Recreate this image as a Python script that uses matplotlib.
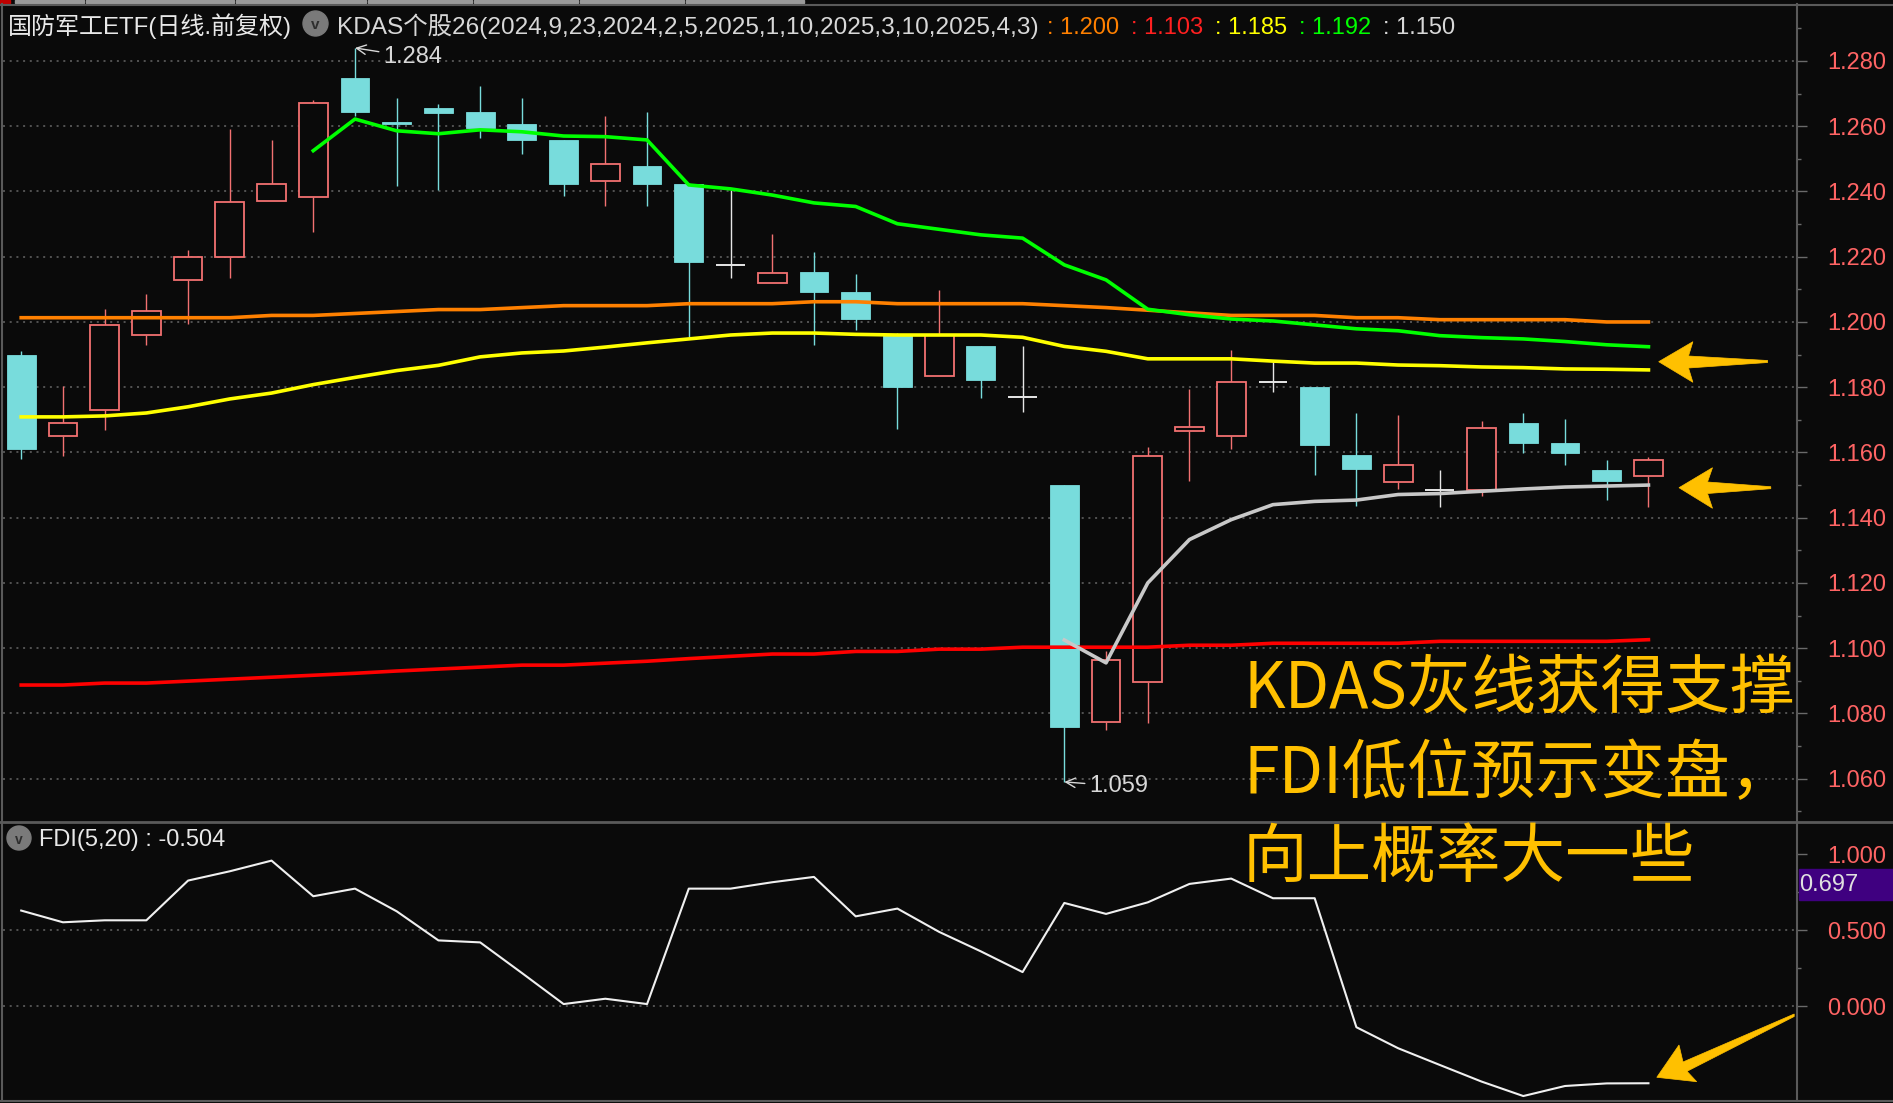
import numpy as np
import matplotlib
matplotlib.use("Agg")
import matplotlib.pyplot as plt
from matplotlib.patches import Polygon, Ellipse, Rectangle
from matplotlib.lines import Line2D

# ---------------- data ----------------
opens = [1.1900, 1.1650, 1.1730, 1.1960, 1.2130, 1.2200, 1.2370, 1.2382, 1.2748, 1.2612,
         1.2655, 1.2643, 1.2607, 1.2558, 1.2431, 1.2478, 1.2422, 1.2176, 1.2119, 1.2153,
         1.2092, 1.1960, 1.1833, 1.1927, 1.1771, 1.1500, 1.0773, 1.0897, 1.1666, 1.1650,
         1.1816, 1.1800, 1.1591, 1.1509, 1.1484, 1.1484, 1.1689, 1.1628, 1.1547, 1.1527]
highs = [1.1910, 1.1805, 1.2040, 1.2085, 1.2220, 1.2590, 1.2558, 1.2680, 1.2840, 1.2686,
         1.2667, 1.2723, 1.2687, 1.2558, 1.2631, 1.2644, 1.2425, 1.2405, 1.2270, 1.2214,
         1.2146, 1.1965, 1.2098, 1.1927, 1.1927, 1.1500, 1.0990, 1.1616, 1.1795, 1.1915,
         1.1879, 1.1800, 1.1720, 1.1714, 1.1547, 1.1696, 1.1720, 1.1702, 1.1578, 1.1585]
lows = [1.1580, 1.1590, 1.1670, 1.1930, 1.1995, 1.2135, 1.2370, 1.2277, 1.2630, 1.2418,
        1.2405, 1.2565, 1.2516, 1.2387, 1.2357, 1.2357, 1.1955, 1.2136, 1.2119, 1.1928,
        1.1975, 1.1672, 1.1833, 1.1768, 1.1725, 1.0590, 1.0748, 1.0771, 1.1512, 1.1611,
        1.1784, 1.1532, 1.1435, 1.1488, 1.1433, 1.1466, 1.1599, 1.1563, 1.1453, 1.1433]
closes = [1.1610, 1.1690, 1.1990, 1.2035, 1.2200, 1.2367, 1.2422, 1.2672, 1.2644, 1.2607,
          1.2640, 1.2596, 1.2559, 1.2424, 1.2483, 1.2424, 1.2185, 1.2176, 1.2151, 1.2093,
          1.2008, 1.1800, 1.1960, 1.1822, 1.1771, 1.0759, 1.0965, 1.1590, 1.1678, 1.1817,
          1.1816, 1.1622, 1.1550, 1.1560, 1.1484, 1.1675, 1.1629, 1.1599, 1.1512, 1.1577]

kdas_orange = [1.2013] * 6 + [1.2020] * 2 + [1.2026, 1.2032] + [1.2038] * 2 + [1.2044] + \
              [1.2050] * 3 + [1.2056] * 3 + [1.2062] * 2 + [1.2056] * 4 + \
              [1.2050, 1.2044, 1.2036, 1.2028] + [1.2020] * 3 + [1.2013] * 2 + \
              [1.2007] * 4 + [1.2000] * 2
kdas_red = [1.0887] * 2 + [1.0893] * 2 + [1.0899, 1.0905, 1.0911, 1.0917, 1.0923, 1.0930,
            1.0936, 1.0942] + [1.0948] * 2 + [1.0954, 1.0960, 1.0968, 1.0975] + \
           [1.0982] * 2 + [1.0990] * 2 + [1.0997] * 2 + [1.1003] * 4 + [1.1009] * 2 + \
           [1.1015] * 4 + [1.1021] * 5 + [1.1026]
kdas_yellow = [1.1709, 1.1709, 1.1712, 1.1721, 1.1740, 1.1764, 1.1782, 1.1808, 1.1830, 1.1851,
               1.1867, 1.1893, 1.1905, 1.1911, 1.1923, 1.1936, 1.1948, 1.1960, 1.1966, 1.1966,
               1.1962, 1.1960, 1.1960, 1.1960, 1.1953, 1.1925, 1.1910, 1.1887, 1.1887, 1.1887,
               1.1880, 1.1874, 1.1874, 1.1868, 1.1866, 1.1862, 1.1860, 1.1856, 1.1855, 1.1853]
green_start = 7
kdas_green = [1.2525, 1.2622, 1.2586, 1.2577, 1.2589, 1.2583, 1.2570, 1.2568, 1.2558, 1.2420,
              1.2408, 1.2389, 1.2365, 1.2354, 1.2301, 1.2284, 1.2267, 1.2257, 1.2175, 1.2129,
              1.2039, 1.2022, 1.2009, 1.2003, 1.1991, 1.1979, 1.1973, 1.1958, 1.1952, 1.1948,
              1.1940, 1.1930, 1.1924]
gray_start = 25
kdas_gray = [1.1025, 1.0955, 1.1200, 1.1333, 1.1394, 1.1440, 1.1450, 1.1454, 1.1471, 1.1474,
             1.1481, 1.1488, 1.1494, 1.1497, 1.1500]

fdi = [0.630, 0.553, 0.566, 0.566, 0.827, 0.888, 0.958, 0.724, 0.774, 0.625,
       0.434, 0.421, 0.220, 0.016, 0.051, 0.016, 0.774, 0.774, 0.816, 0.851,
       0.592, 0.643, 0.490, 0.362, 0.226, 0.680, 0.608, 0.684, 0.805, 0.840,
       0.711, 0.711, -0.136, -0.274, -0.384, -0.493, -0.588, -0.522, -0.505, -0.504]

price_ticks = [1.060, 1.080, 1.100, 1.120, 1.140, 1.160, 1.180, 1.200, 1.220, 1.240, 1.260, 1.280]
fdi_ticks = [0.0, 0.5, 1.0]
fdi_grid = [0.0, 0.5]

title_main = "国防军工ETF(日线.前复权)"
title_kdas = "KDAS个股26(2024,9,23,2024,2,5,2025,1,10,2025,3,10,2025,4,3)"
fdi_name = "FDI(5,20)"
note_lines = ["KDAS灰线获得支撑", "FDI低位预示变盘，", "向上概率大一些"]
cursor_value = "0.697"

# ---------------- style ----------------
W, H = 1893, 1103
BG = "#0a0a0a"
BORDER = "#5a5a5a"
GRID = "#505050"
UPC = "#f27171"
DNC = "#78dcdc"
DOJ = "#e6e6e6"
AXLBL = "#ff6464"
NOTE = "#ffc000"

plt.rcParams['font.family'] = ['Liberation Sans', 'Noto Sans CJK SC', 'DejaVu Sans']

fig = plt.figure(figsize=(W / 100, H / 100), dpi=100, facecolor=BG)


def fx(px):
    return px / W


def fy(py):
    return 1 - py / H


ax1 = fig.add_axes([fx(3), fy(821), fx(1797) - fx(3), fy(4) - fy(821)], facecolor=BG)
ax2 = fig.add_axes([fx(3), fy(1100), fx(1797) - fx(3), fy(823) - fy(1100)], facecolor=BG)

x = np.arange(len(opens))
o = np.array(opens)
h = np.array(highs)
l = np.array(lows)
c = np.array(closes)
up = c > o
dn = c < o
fl = c == o
bw = 0.69

# grid
for v in price_ticks:
    ax1.axhline(v, color=GRID, lw=1.44, ls=(0, (1, 2.35)), zorder=1)
for v in fdi_grid:
    ax2.axhline(v, color=GRID, lw=1.44, ls=(0, (1, 2.35)), zorder=1)

# candles
ax1.vlines(x[dn], l[dn], h[dn], color=DNC, lw=1.0, zorder=2)
ax1.bar(x[dn], (o - c)[dn], bottom=c[dn], width=bw, color=DNC, edgecolor=DNC, lw=0.6, zorder=2)
ax1.vlines(x[up], c[up], h[up], color=UPC, lw=1.0, zorder=2)
ax1.vlines(x[up], l[up], o[up], color=UPC, lw=1.0, zorder=2)
ax1.bar(x[up], (c - o)[up], bottom=o[up], width=bw, facecolor=BG, edgecolor=UPC, lw=1.3, zorder=2)
ax1.vlines(x[fl], l[fl], h[fl], color=DOJ, lw=1.0, zorder=2)
ax1.hlines(c[fl], x[fl] - bw / 2, x[fl] + bw / 2, color=DOJ, lw=1.4, zorder=2)

# KDAS lines
LW = 2.6
ax1.plot(x, kdas_red, color="#ff0000", lw=LW, zorder=3)
ax1.plot(x, kdas_orange, color="#ff8000", lw=LW, zorder=3)
ax1.plot(x, kdas_yellow, color="#ffff00", lw=LW, zorder=3)
ax1.plot(x[green_start:], kdas_green, color="#00ff00", lw=LW, zorder=3)
ax1.plot(x[gray_start:], kdas_gray, color="#c8c8c8", lw=LW, zorder=3)

# FDI
ax2.plot(x, fdi, color="#f0f0f0", lw=1.5, zorder=3)

# axes formatting
for ax in (ax1, ax2):
    ax.set_xlim(-0.436, 42.56)
    for s in ax.spines.values():
        s.set_visible(False)
    ax.tick_params(axis='x', bottom=False, labelbottom=False)
    ax.yaxis.tick_right()
    ax.tick_params(axis='y', which='major', direction='out', length=7, width=1,
                   color='#6a6a6a', labelcolor=AXLBL, labelsize=17, pad=15)
    ax.tick_params(axis='y', which='minor', direction='out', length=3, width=1, color='#6a6a6a')

ax1.set_ylim(1.04702, 1.29747)
ax1.set_yticks(price_ticks)
ax1.set_yticklabels([f"{v:.3f}" for v in price_ticks])
ax1.set_yticks([v + 0.01 for v in price_ticks] + [price_ticks[0] - 0.01], minor=True)

ax2.set_ylim(-0.614, 1.205)
ax2.set_yticks(fdi_ticks)
ax2.set_yticklabels([f"{v:.3f}" for v in fdi_ticks])
ax2.set_yticks([0.25, 0.75], minor=True)

# high / low labels
ih = int(np.argmax(h))
il = int(np.argmin(l))
ax1.annotate(f"{h[ih]:.3f}", xy=(ih, h[ih]), xycoords='data',
             xytext=(383, H - 57), textcoords='figure pixels',
             color="#d8d8d8", fontsize=17, ha='left', va='center', zorder=5,
             arrowprops=dict(arrowstyle='->', color="#d8d8d8", lw=1.0, shrinkA=1, shrinkB=0))
ax1.annotate(f"{l[il]:.3f}", xy=(il, l[il]), xycoords='data',
             xytext=(1089, H - 786), textcoords='figure pixels',
             color="#d8d8d8", fontsize=17, ha='left', va='center', zorder=5,
             arrowprops=dict(arrowstyle='->', color="#d8d8d8", lw=1.0, shrinkA=1, shrinkB=0))

# ---------------- frame lines ----------------
def fline(x0, y0, x1, y1, color=BORDER, lw=1.5):
    fig.add_artist(Line2D([fx(x0), fx(x1)], [fy(y0), fy(y1)], transform=fig.transFigure,
                          color=color, lw=lw))


fline(0, 4.5, W, 4.5)
fline(0, 821.5, W, 821.5, lw=2)
fline(0, 1100.5, W, 1100.5)
fline(2, 4, 2, 1101)
fline(1797, 4, 1797, 1101)

# top tab strip
fig.add_artist(Rectangle((fx(0), fy(3)), fx(10), 3 / H, transform=fig.transFigure, color="#c00000"))
tabs = [(15, 84), (86, 234), (236, 366), (368, 472), (474, 578), (580, 684), (686, 804)]
for a, b in tabs:
    fig.add_artist(Rectangle((fx(a), fy(3)), fx(b - a), 3 / H, transform=fig.transFigure,
                             color="#9a9a9a"))

# ---------------- header texts ----------------
fig.text(fx(8), fy(34), title_main, color="#e8e8e8", fontsize=17.3, va='baseline', ha='left')
fig.add_artist(Ellipse((fx(315.5), fy(23.5)), 25 / W, 25 / H, transform=fig.transFigure,
                       color="#7a7a7a"))
fig.text(fx(315.5), fy(25), "v", color="#2e2e2e", fontsize=11, ha='center', va='center',
         fontweight='bold')
fig.text(fx(337), fy(34), title_kdas, color="#d8d8d8", fontsize=17.6, va='baseline', ha='left')
vals = [(kdas_orange[-1], "#ff8000", 1047), (kdas_red[-1], "#ff2020", 1131),
        (kdas_yellow[-1], "#ffff00", 1215), (kdas_green[-1], "#00ff00", 1299),
        (kdas_gray[-1], "#d8d8d8", 1383)]
for v, col, px in vals:
    fig.text(fx(px), fy(34), f": {v:.3f}", color=col, fontsize=17, va='baseline', ha='left')

# lower panel title
fig.add_artist(Ellipse((fx(19), fy(838)), 24 / W, 24 / H, transform=fig.transFigure,
                       color="#7a7a7a"))
fig.text(fx(19), fy(839.5), "v", color="#2e2e2e", fontsize=10, ha='center', va='center',
         fontweight='bold')
fig.text(fx(39), fy(846), f"{fdi_name} : {fdi[-1]:.3f}", color="#e8e8e8", fontsize=17,
         va='baseline', ha='left')

# cursor value box
fig.add_artist(Rectangle((fx(1799), fy(900)), fx(W - 1799), 31 / H, transform=fig.transFigure,
                         color="#3f0080"))
fig.text(fx(1799), fy(885), cursor_value, color="#e0e0e0", fontsize=17, va='center', ha='left')

# ---------------- annotation text ----------------
for s, base in zip(note_lines, [708, 793, 877]):
    fig.text(fx(1243), fy(base), s, color=NOTE, fontsize=46.5, va='baseline', ha='left',
             family=['Noto Sans CJK SC', 'DejaVu Sans'])

# ---------------- arrows ----------------
arrows = [
    [(1658.7, 361.7), (1692.9, 341.7), (1688.5, 356.0), (1767.6, 360.5),
     (1767.6, 362.5), (1688.5, 368.0), (1692.9, 382.3)],
    [(1679.0, 487.7), (1712.5, 467.7), (1707.5, 482.0), (1770.8, 486.7),
     (1770.8, 488.7), (1707.5, 493.5), (1712.5, 508.3)],
    [(1656.8, 1077.3), (1679.0, 1045.0), (1683.0, 1062.0), (1794.2, 1014.0),
     (1794.2, 1016.5), (1687.0, 1071.3), (1696.7, 1081.7)],
]
for pts in arrows:
    fig.add_artist(Polygon([(fx(a), fy(b)) for a, b in pts], closed=True,
                           transform=fig.transFigure, facecolor=NOTE, edgecolor=NOTE, lw=0.5))

fig.savefig("out.png", dpi=100, facecolor=BG)
